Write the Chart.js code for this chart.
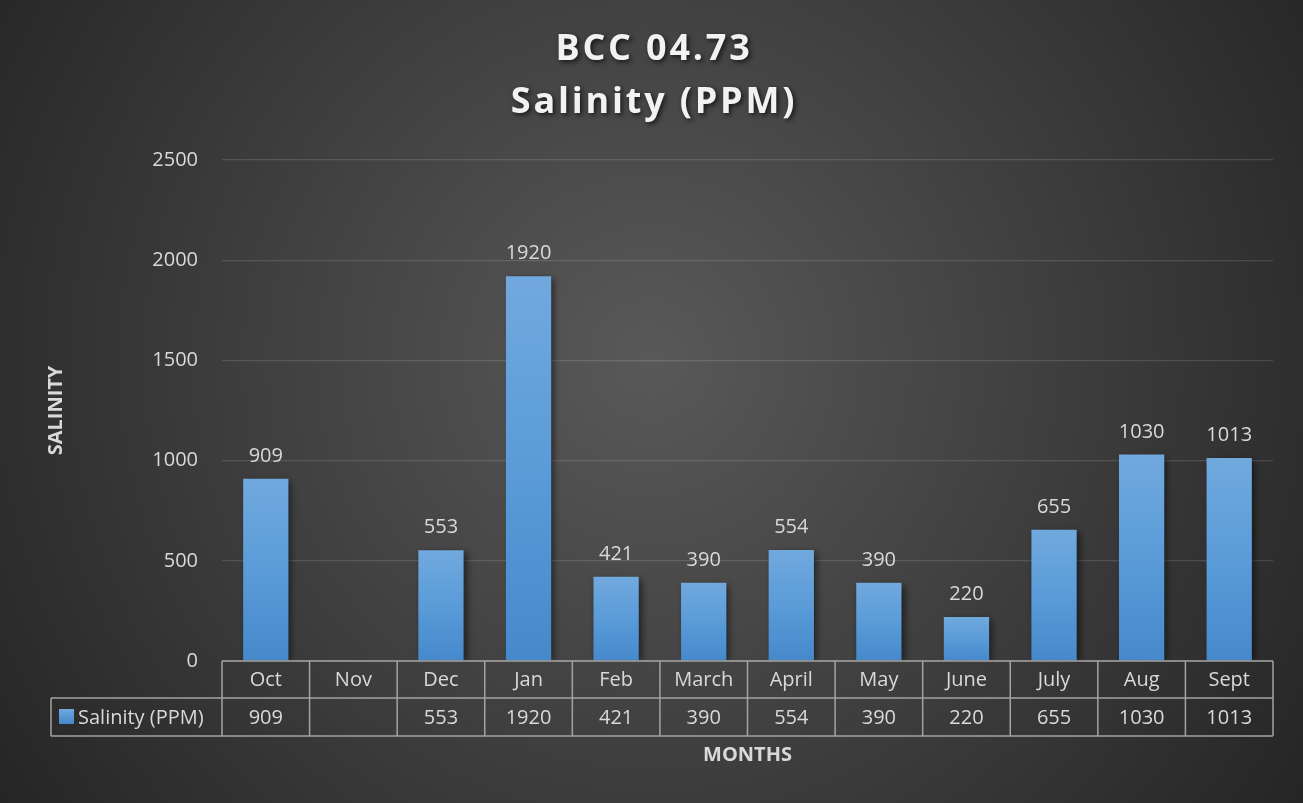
<!DOCTYPE html>
<html>
<head>
<meta charset="utf-8">
<script src="https://cdn.jsdelivr.net/npm/chart.js@4.4.1/dist/chart.umd.min.js"></script>
<style>
  html, body { margin: 0; padding: 0; background: #262626; overflow: hidden; }
  canvas { display: block; }
</style>
</head>
<body>
<canvas id="salinityChart" width="1303" height="803"></canvas>
<script>
// chart data
const categories = ['Oct', 'Nov', 'Dec', 'Jan', 'Feb', 'March', 'April', 'May', 'June', 'July', 'Aug', 'Sept'];
const salinity = [909, null, 553, 1920, 421, 390, 554, 390, 220, 655, 1030, 1013];
const yTicks = [0, 500, 1000, 1500, 2000, 2500];
const seriesName = 'Salinity (PPM)';
const titleLines = ['BCC 04.73', 'Salinity (PPM)'];
const xTitle = 'MONTHS';
const yTitle = 'SALINITY';

const textColor = '#d9d9d9';
const fontFamily = '"Open Sans", "Noto Sans", sans-serif';

// per-bar vertical gradient
function barFill(ctx) {
  const chart = ctx.chart;
  const y = chart.scales && chart.scales.y;
  const v = ctx.raw;
  if (!chart.chartArea || !y || v == null) return '#5b9bd5';
  const top = y.getPixelForValue(v);
  const bottom = y.getPixelForValue(0);
  const g = chart.ctx.createLinearGradient(0, top, 0, bottom);
  g.addColorStop(0, '#71a9de');
  g.addColorStop(0.5, '#5a9bd8');
  g.addColorStop(1, '#4689cb');
  return g;
}

const backgroundPlugin = {
  id: 'bgPlugin',
  beforeDraw(chart) {
    const { ctx, width, height } = chart;
    ctx.save();
    const g = ctx.createRadialGradient(650, 360, 0, 650, 360, 820);
    g.addColorStop(0, '#595959');
    g.addColorStop(1, '#232323');
    ctx.fillStyle = g;
    ctx.fillRect(0, 0, width, height);
    ctx.restore();
  }
};

const barShadowPlugin = {
  id: 'barShadow',
  beforeDatasetsDraw(chart) {
    const ctx = chart.ctx;
    ctx.save();
    ctx.shadowColor = 'rgba(0,0,0,0.55)';
    ctx.shadowBlur = 7;
    ctx.shadowOffsetX = 3;
    ctx.shadowOffsetY = 2;
  },
  afterDatasetsDraw(chart) {
    chart.ctx.restore();
  }
};

const labelsPlugin = {
  id: 'valueLabels',
  afterDatasetsDraw(chart) {
    const ctx = chart.ctx;
    const meta = chart.getDatasetMeta(0);
    ctx.save();
    ctx.font = '20px ' + fontFamily;
    ctx.fillStyle = textColor;
    ctx.textAlign = 'center';
    ctx.textBaseline = 'alphabetic';
    meta.data.forEach((bar, i) => {
      const v = salinity[i];
      if (v == null) return;
      ctx.fillText(String(v), bar.x, bar.y - 17);
    });
    ctx.restore();
  }
};

const tablePlugin = {
  id: 'dataTable',
  afterDraw(chart) {
    const { ctx, chartArea } = chart;
    const x = chart.scales.x;
    const n = categories.length;
    const cw = (chartArea.right - chartArea.left) / n;
    const top = chartArea.bottom;
    const mid = top + 37;
    const bottom = mid + 38;
    const legendLeft = 51;

    ctx.save();
    ctx.strokeStyle = '#a3a3a3';
    ctx.lineWidth = 1.5;
    ctx.beginPath();
    // horizontal lines
    ctx.moveTo(chartArea.left, top);
    ctx.lineTo(chartArea.right, top);
    ctx.moveTo(legendLeft, mid);
    ctx.lineTo(chartArea.right, mid);
    ctx.moveTo(legendLeft, bottom);
    ctx.lineTo(chartArea.right, bottom);
    // vertical lines
    ctx.moveTo(legendLeft, mid);
    ctx.lineTo(legendLeft, bottom);
    for (let i = 0; i <= n; i++) {
      const bx = i < n ? x.getPixelForValue(i) - cw / 2 : x.getPixelForValue(n - 1) + cw / 2;
      ctx.moveTo(bx, top);
      ctx.lineTo(bx, bottom);
    }
    ctx.stroke();

    ctx.font = '20px ' + fontFamily;
    ctx.fillStyle = textColor;
    ctx.textAlign = 'center';
    ctx.textBaseline = 'middle';
    categories.forEach((c, i) => {
      const cx = x.getPixelForValue(i);
      ctx.fillText(c, cx, (top + mid) / 2 + 1);
      if (salinity[i] != null) ctx.fillText(String(salinity[i]), cx, (mid + bottom) / 2 + 1);
    });

    // legend key
    const sw = ctx.createLinearGradient(0, mid + 11, 0, mid + 25);
    sw.addColorStop(0, '#71a9de');
    sw.addColorStop(1, '#4689cb');
    ctx.fillStyle = sw;
    ctx.fillRect(59, mid + 11, 15, 15);
    ctx.fillStyle = textColor;
    ctx.textAlign = 'left';
    ctx.fillText(seriesName, 78, (mid + bottom) / 2 + 1);
    ctx.restore();
  }
};

const titlePlugin = {
  id: 'bigTitle',
  afterDraw(chart) {
    const ctx = chart.ctx;
    ctx.save();
    ctx.font = 'bold 36px ' + fontFamily;
    ctx.letterSpacing = '2.8px';
    ctx.fillStyle = '#f2f2f2';
    ctx.textAlign = 'center';
    ctx.textBaseline = 'middle';
    ctx.shadowColor = 'rgba(0,0,0,0.7)';
    ctx.shadowBlur = 5;
    ctx.shadowOffsetX = 2;
    ctx.shadowOffsetY = 2;
    ctx.fillText(titleLines[0], 654, 50);
    ctx.fillText(titleLines[1], 654, 103);
    ctx.restore();
  }
};

new Chart(document.getElementById('salinityChart'), {
  type: 'bar',
  data: {
    labels: categories,
    datasets: [{
      label: seriesName,
      data: salinity,
      backgroundColor: barFill,
      borderWidth: 0,
      barPercentage: 0.517,
      categoryPercentage: 1.0
    }]
  },
  options: {
    responsive: false,
    animation: false,
    layout: {
      padding: { top: 160, right: 30, bottom: 36, left: 44 }
    },
    plugins: {
      legend: { display: false },
      title: { display: false },
      tooltip: { enabled: false }
    },
    scales: {
      x: {
        grid: { display: false },
        border: { display: false },
        ticks: { display: false },
        title: {
          display: true,
          text: xTitle,
          color: textColor,
          font: { family: fontFamily, size: 20, weight: 'bold' },
          padding: { top: 0, bottom: 0 }
        },
        afterFit(scale) { scale.height = 106; }
      },
      y: {
        min: 0,
        max: 2500,
        afterBuildTicks(scale) {
          scale.ticks = yTicks.map(v => ({ value: v }));
        },
        grid: { color: 'rgba(255,255,255,0.13)', lineWidth: 1.2, drawTicks: false },
        border: { display: false },
        ticks: {
          color: textColor,
          padding: 24,
          font: { family: fontFamily, size: 20 },
          callback: (v) => String(v)
        },
        title: {
          display: true,
          text: yTitle,
          color: textColor,
          font: { family: fontFamily, size: 20, weight: 'bold' },
          padding: { top: 0, bottom: 0 }
        },
        afterFit(scale) { scale.width = 178; }
      }
    }
  },
  plugins: [backgroundPlugin, barShadowPlugin, labelsPlugin, tablePlugin, titlePlugin]
});
</script>
</body>
</html>
